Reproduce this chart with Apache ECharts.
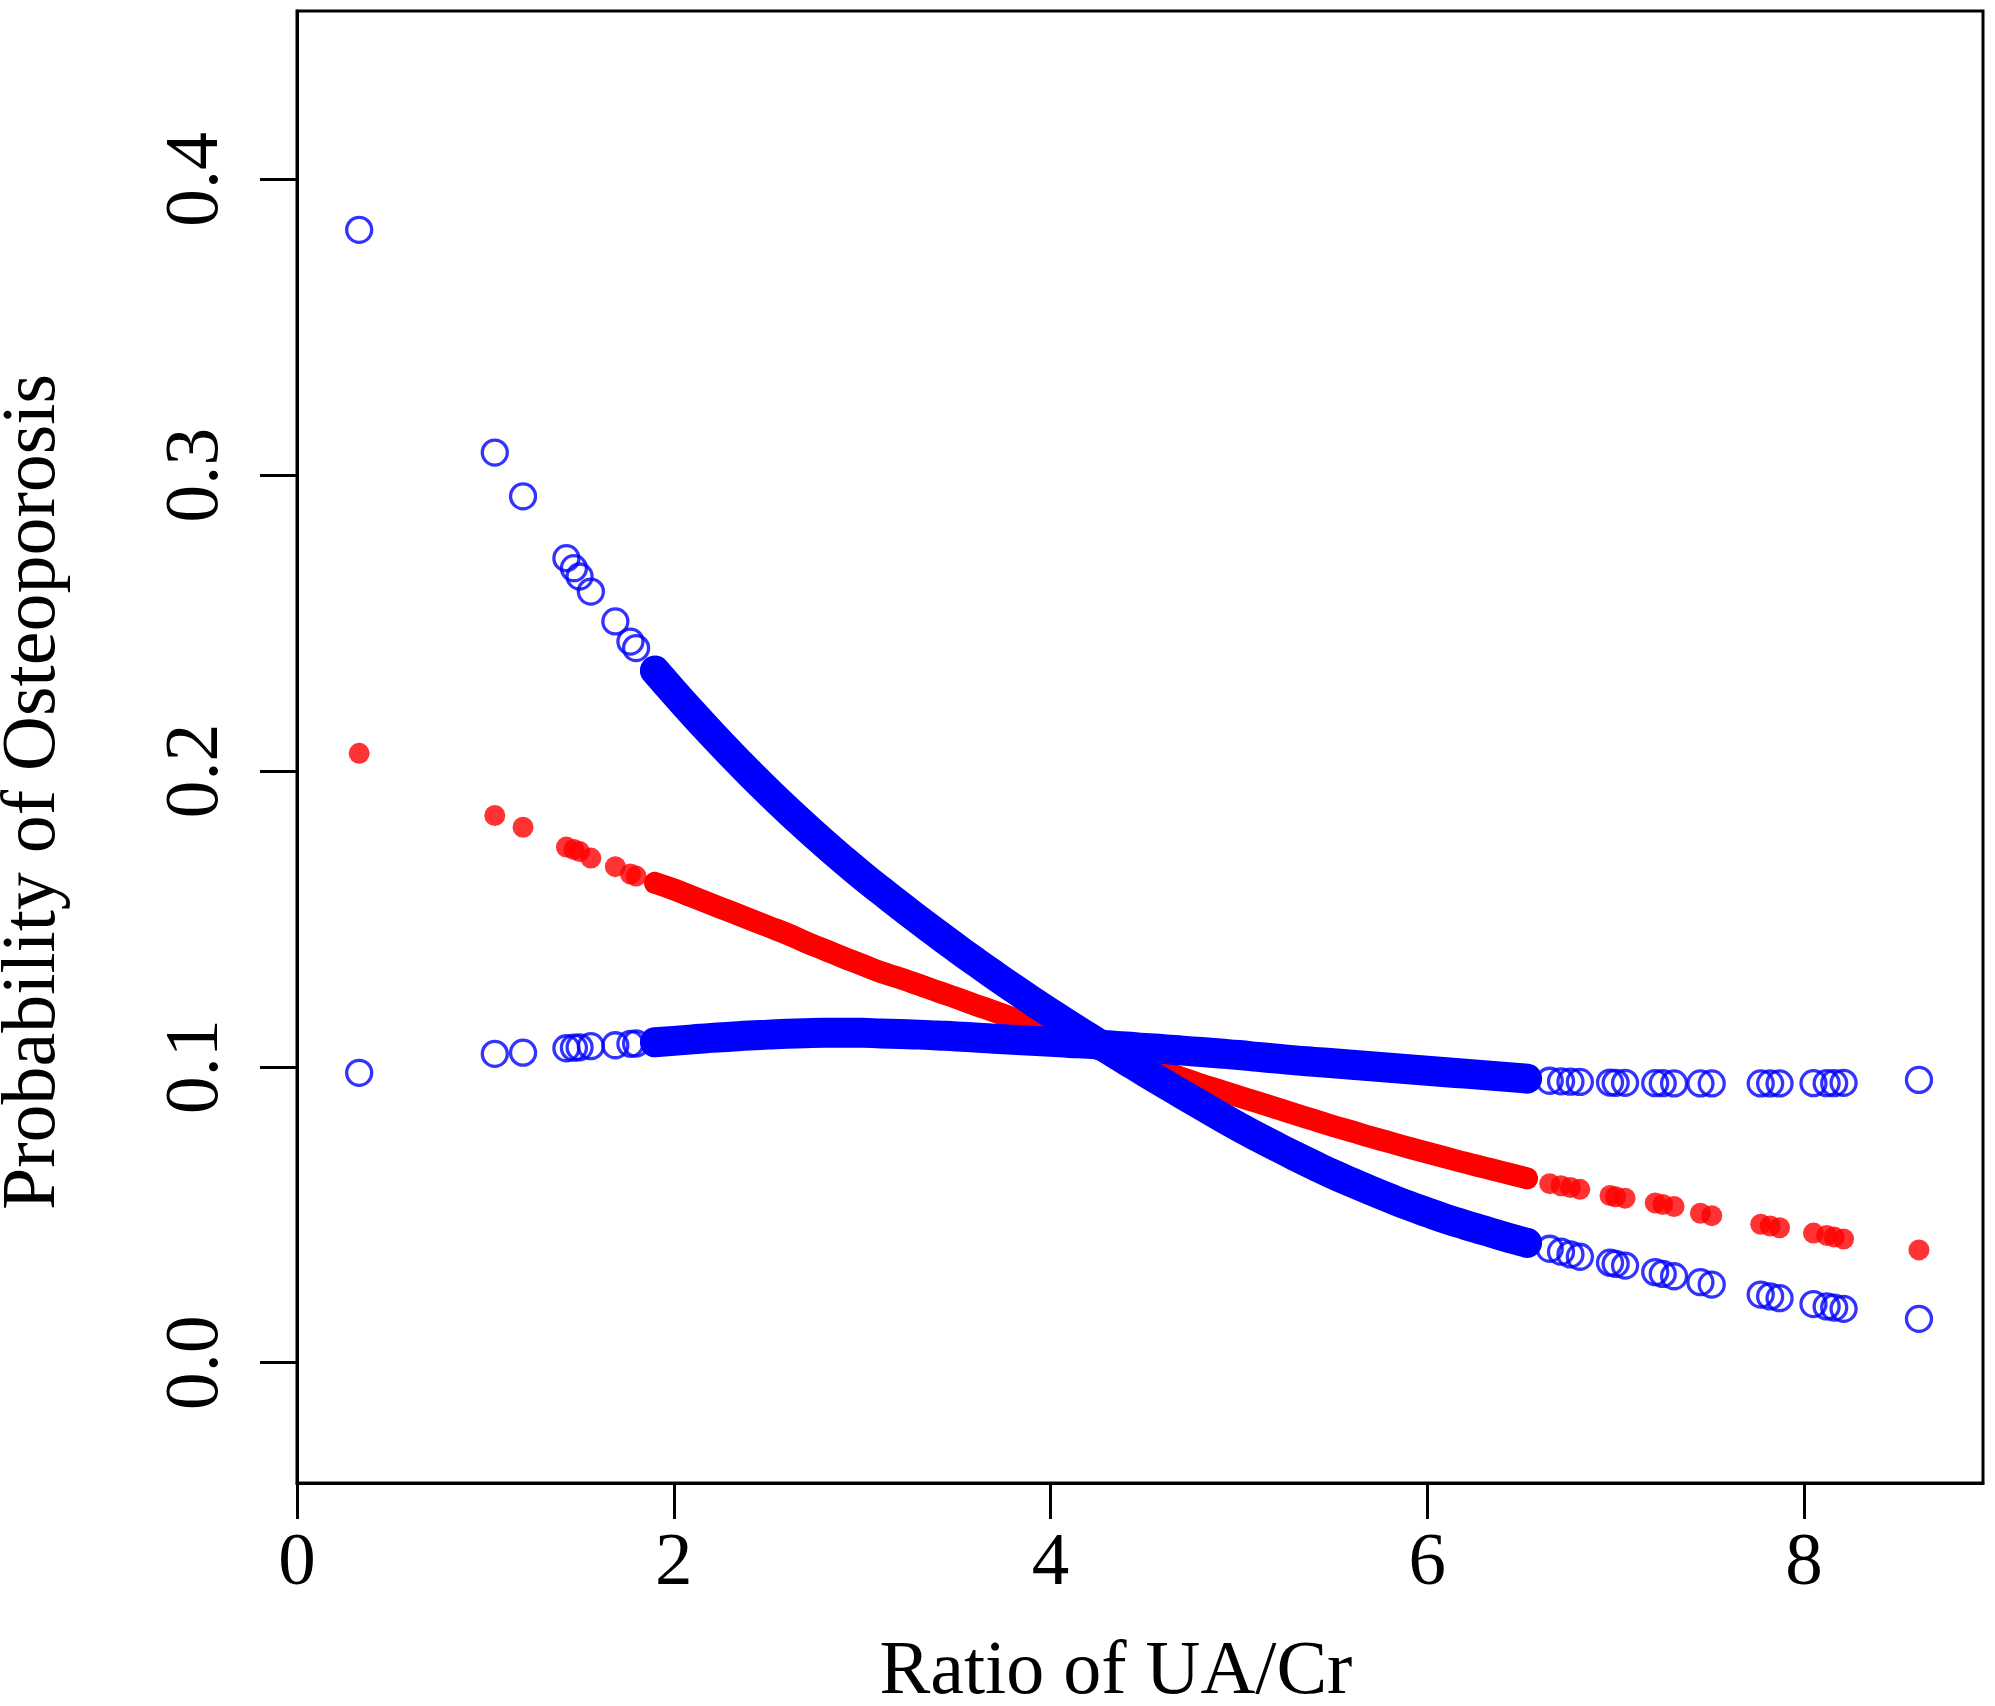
<!DOCTYPE html>
<html>
<head>
<meta charset="utf-8">
<title>Probability of Osteoporosis</title>
<script src="https://cdn.jsdelivr.net/npm/echarts@6.0.0/dist/echarts.min.js"></script>
<style>
  html, body { margin: 0; padding: 0; background: #fff; }
  #chart { width: 1995px; height: 1706px; }
</style>
</head>
<body>
<div id="chart"></div>
<script>
// ratio of UA/Cr (x) for every point
var ratio = [
  0.33, 1.05, 1.20, 1.43, 1.47, 1.50, 1.56, 1.69, 1.77, 1.80,
  1.9, 2.0, 2.1, 2.2, 2.3, 2.4, 2.5, 2.6, 2.7, 2.8, 2.9, 3.0, 3.1, 3.2, 3.3, 3.4,
  3.5, 3.6, 3.7, 3.8, 3.9, 4.0, 4.1, 4.2, 4.3, 4.4, 4.5, 4.6, 4.7, 4.8, 4.9, 5.0,
  5.1, 5.2, 5.3, 5.4, 5.5, 5.6, 5.7, 5.8, 5.9, 6.0, 6.1, 6.2, 6.3, 6.4, 6.5,
  6.53, 6.65, 6.71, 6.76, 6.81, 6.97, 7.00, 7.05, 7.21, 7.25, 7.31, 7.45, 7.51,
  7.77, 7.82, 7.87, 8.05, 8.12, 8.16, 8.21, 8.61
];
// predicted probability (red dots)
var predicted = [
  0.206, 0.185, 0.181, 0.1743, 0.1735, 0.1728, 0.1706, 0.1677, 0.1652, 0.1645,
  0.1622, 0.1600, 0.1575, 0.1550, 0.1525, 0.1500, 0.1475, 0.1450, 0.1422, 0.1396,
  0.1370, 0.1345, 0.1320, 0.1300, 0.1278, 0.1255, 0.1233, 0.1210, 0.1188, 0.1165,
  0.1142, 0.1118, 0.1095, 0.1072, 0.1050, 0.1028, 0.1005, 0.0983, 0.0962, 0.0940,
  0.0920, 0.0900, 0.0880, 0.0860, 0.0840, 0.0820, 0.0800, 0.0782, 0.0763, 0.0745,
  0.0727, 0.0710, 0.0693, 0.0676, 0.0660, 0.0644, 0.0628,
  0.0623, 0.0605, 0.0598, 0.0592, 0.0586, 0.0565, 0.0561, 0.0556, 0.0540, 0.0535,
  0.0528, 0.0505, 0.0497, 0.0468, 0.0462, 0.0456, 0.0438, 0.0430, 0.0425, 0.0418, 0.0381
];
// first confidence bound (blue circles, high on the left)
var boundA = [
  0.383, 0.3077, 0.2929, 0.2720, 0.2686, 0.2658, 0.2607, 0.2506, 0.2438, 0.2416,
  0.2340, 0.2267, 0.2196, 0.2127, 0.2060, 0.1995, 0.1932, 0.1871, 0.1812, 0.1755,
  0.1700, 0.1647, 0.1596, 0.1546, 0.1497, 0.1449, 0.1402, 0.1356, 0.1311, 0.1267,
  0.1224, 0.1182, 0.1141, 0.1101, 0.1061, 0.1022, 0.0983, 0.0945, 0.0907, 0.0870,
  0.0833, 0.0797, 0.0763, 0.0730, 0.0698, 0.0667, 0.0637, 0.0609, 0.0582, 0.0556,
  0.0531, 0.0508, 0.0486, 0.0466, 0.0447, 0.0428, 0.0410,
  0.0405, 0.0385, 0.0375, 0.0366, 0.0358, 0.0338, 0.0334, 0.0328, 0.0306, 0.0300,
  0.0292, 0.0272, 0.0264, 0.0230, 0.0224, 0.0218, 0.0198, 0.0190, 0.0186, 0.0182, 0.0148
];
// second confidence bound (blue circles, nearly flat)
var boundB = [
  0.098, 0.1044, 0.1048, 0.1063, 0.1065, 0.1066, 0.1070, 0.1073, 0.1078, 0.1079,
  0.1083, 0.1088, 0.1093, 0.1098, 0.1102, 0.1106, 0.1109, 0.1112, 0.1114, 0.1115,
  0.1115, 0.1115, 0.1113, 0.1111, 0.1109, 0.1106, 0.1103, 0.1099, 0.1095, 0.1092,
  0.1088, 0.1085, 0.1081, 0.1078, 0.1073, 0.1069, 0.1064, 0.1060, 0.1055, 0.1050,
  0.1045, 0.1040, 0.1034, 0.1028, 0.1022, 0.1017, 0.1012, 0.1007, 0.1002, 0.0997,
  0.0992, 0.0987, 0.0982, 0.0977, 0.0972, 0.0967, 0.0962,
  0.0960, 0.0953, 0.0951, 0.0950, 0.0949, 0.0947, 0.0946, 0.0946, 0.0945, 0.0945,
  0.0944, 0.0944, 0.0944, 0.0944, 0.0944, 0.0944, 0.0945, 0.0945, 0.0945, 0.0946, 0.0956
];
var xTicks = [0, 2, 4, 6, 8];
var yTicks = [0, 0.1, 0.2, 0.3, 0.4];

var FONT = 'Liberation Serif';
var BLUE = '#0000ff';
var RED = '#ff0000';

function pairs(ys) {
  return ratio.map(function (x, i) { return [x, ys[i]]; });
}
// the thick packed part of each cloud (points overlap into a solid band)
function packed(ys) {
  return pairs(ys).filter(function (p) { return p[0] >= 1.85 && p[0] <= 6.55; });
}

function band(ys, color, width) {
  return {
    type: 'line',
    data: packed(ys),
    showSymbol: false,
    smooth: 0.5,
    silent: true,
    lineStyle: { color: color, width: width, cap: 'round', join: 'round' }
  };
}

var chart = echarts.init(document.getElementById('chart'), null, { renderer: 'canvas' });

var option = {
  animation: false,
  backgroundColor: '#fff',
  grid: {
    left: 297, right: 12, top: 11, bottom: 223,
    show: true, borderColor: '#000', borderWidth: 3,
    outerBoundsMode: 'none'
  },
  xAxis: {
    type: 'value',
    min: 0, max: 8.95,
    name: 'Ratio of UA/Cr',
    nameLocation: 'middle',
    nameGap: 152,
    nameTextStyle: { fontFamily: FONT, fontSize: 76, color: '#000', padding: [0, 48, 0, 0] },
    axisLine: { show: true, onZero: false, lineStyle: { color: '#000', width: 3 } },
    axisTick: { show: true, length: 36, customValues: xTicks, lineStyle: { color: '#000', width: 3 } },
    axisLabel: { fontFamily: FONT, fontSize: 75, color: '#000', margin: 44, customValues: xTicks },
    splitLine: { show: false }
  },
  yAxis: {
    type: 'value',
    min: -0.0407, max: 0.457,
    name: 'Probability of Osteoporosis',
    nameLocation: 'middle',
    nameGap: 225,
    nameTextStyle: { fontFamily: FONT, fontSize: 76, color: '#000', padding: [0, 90, 0, 0] },
    axisLine: { show: true, onZero: false, lineStyle: { color: '#000', width: 3 } },
    axisTick: { show: true, length: 37, customValues: yTicks, lineStyle: { color: '#000', width: 3 } },
    axisLabel: {
      fontFamily: FONT, fontSize: 76, color: '#000', margin: 62, rotate: 90,
      customValues: yTicks,
      formatter: function (v) { return v.toFixed(1); }
    },
    splitLine: { show: false }
  },
  series: [
    band(predicted, RED, 22),
    {
      type: 'scatter',
      data: pairs(predicted),
      symbol: 'circle',
      symbolSize: 21,
      itemStyle: { color: RED }
    },
    band(boundA, BLUE, 30),
    {
      type: 'scatter',
      data: pairs(boundA),
      symbol: 'circle',
      symbolSize: 25,
      itemStyle: { color: 'rgba(0,0,0,0)', borderColor: BLUE, borderWidth: 3.3 }
    },
    band(boundB, BLUE, 30),
    {
      type: 'scatter',
      data: pairs(boundB),
      symbol: 'circle',
      symbolSize: 25,
      itemStyle: { color: 'rgba(0,0,0,0)', borderColor: BLUE, borderWidth: 3.3 }
    }
  ]
};

chart.setOption(option);
</script>
</body>
</html>
